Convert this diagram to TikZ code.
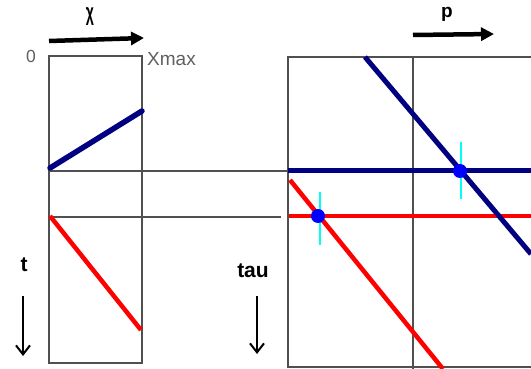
\documentclass[tikz,border=0pt]{standalone}
\usepackage{fontspec}
\setmainfont{Liberation Sans}
\usetikzlibrary{arrows.meta}
\definecolor{frame}{HTML}{505050}
\definecolor{navyline}{HTML}{000080}
\definecolor{labelgray}{HTML}{606060}
\definecolor{markcyan}{HTML}{00FFFF}
\definecolor{dotcol}{HTML}{0000FF}
\definecolor{redcol}{HTML}{FF0000}
\begin{document}
\begin{tikzpicture}[x=1pt,y=-1pt,
  boxline/.style={draw=frame,line width=1.4pt},
  guide/.style={draw=frame,line width=1.2pt},
  navythick/.style={draw=navyline,line width=5pt},
  redthick/.style={draw=redcol,line width=4.5pt},
  cyanline/.style={draw=markcyan,line width=1.5pt},
  dotblue/.style={fill=dotcol,draw=none,circle,minimum size=14pt,inner sep=0pt},
  bigarrow/.style={draw=black,line width=4.5pt,-{Triangle[length=13pt,width=13pt]}},
  thinarrow/.style={draw=black,line width=2pt,-{Straight Barb[length=9pt,width=14pt,line width=2pt]}},
  lbl/.style={inner sep=0pt,font=\fontsize{20}{20}\selectfont}
]
\useasboundingbox (0,0) rectangle (531,369);
\fill[white] (0,0) rectangle (531,369);
% left box
\coordinate (LA) at (49,56);
\coordinate (LB) at (142,363);
\draw[boxline] (LA) rectangle (LB);
% right box
\coordinate (RA) at (288,57);
\coordinate (RB) at (540,367);
\draw[boxline] (RA) rectangle (RB);
\coordinate (VT) at (413,57);
\coordinate (VB) at (413,369);
\draw[boxline] (VT) -- (VB);
% guide lines
\coordinate (G1a) at (49,171);
\coordinate (G1b) at (288,171);
\coordinate (G2a) at (49,217);
\coordinate (G2b) at (281,217);
\draw[guide] (G1a) -- (G1b);
\draw[guide] (G2a) -- (G2b);
% left box signals
\coordinate (LBs) at (50,168);
\coordinate (LBe) at (142,111);
\draw[navythick,line width=5.5pt,line cap=round] (LBs) -- (LBe);
\coordinate (LRs) at (50,216);
\coordinate (LRe) at (141,330);
\draw[redthick] (LRs) -- (LRe);
% right box lines
\coordinate (BHs) at (288,171);
\coordinate (BHe) at (531,171);
\draw[navythick] (BHs) -- (BHe);
\coordinate (RHs) at (289,216);
\coordinate (RHe) at (531,216);
\draw[redthick] (RHs) -- (RHe);
\coordinate (BDs) at (365,57);
\coordinate (BDe) at (531,254);
\draw[navythick] (BDs) -- (BDe);
\coordinate (RDs) at (290,180);
\coordinate (RDe) at (443,369);
\draw[redthick] (RDs) -- (RDe);
% cyan markers
\coordinate (C1a) at (461,142);
\coordinate (C1b) at (461,199);
\draw[cyanline] (C1a) -- (C1b);
\coordinate (C2a) at (320,192);
\coordinate (C2b) at (320,245);
\draw[cyanline] (C2a) -- (C2b);
% dots
\node[dotblue] (D1) at (460,171) {};
\node[dotblue] (D2) at (318,216) {};
% arrows
\coordinate (XA1) at (49,41);
\coordinate (XA2) at (144,38);
\draw[bigarrow] (XA1) -- (XA2);
\coordinate (PA1) at (413,35);
\coordinate (PA2) at (494,34);
\draw[bigarrow] (PA1) -- (PA2);
\coordinate (TA1) at (23,296);
\coordinate (TA2) at (23,356);
\draw[thinarrow] (TA1) -- (TA2);
\coordinate (UA1) at (257,296);
\coordinate (UA2) at (257,354);
\draw[thinarrow] (UA1) -- (UA2);
% labels
\node[lbl] (chi) at (90,17) {\scalebox{0.7}[1.2]{\bfseries χ}};
\node[lbl,text=labelgray,font=\fontsize{17.5}{18}\selectfont] (zero) at (31,56) {0};
\node[lbl,text=labelgray,anchor=west,font=\fontsize{19}{19}\selectfont] (xmax) at (147,59) {Xmax};
\node[lbl,font=\fontsize{19}{19}\selectfont\bfseries] (p) at (447,14) {p};
\node[lbl,font=\fontsize{21}{21}\selectfont\bfseries] (t) at (24,265) {t};
\node[lbl,font=\fontsize{21}{21}\selectfont\bfseries] (tau) at (253,271) {tau};
\end{tikzpicture}
\end{document}
